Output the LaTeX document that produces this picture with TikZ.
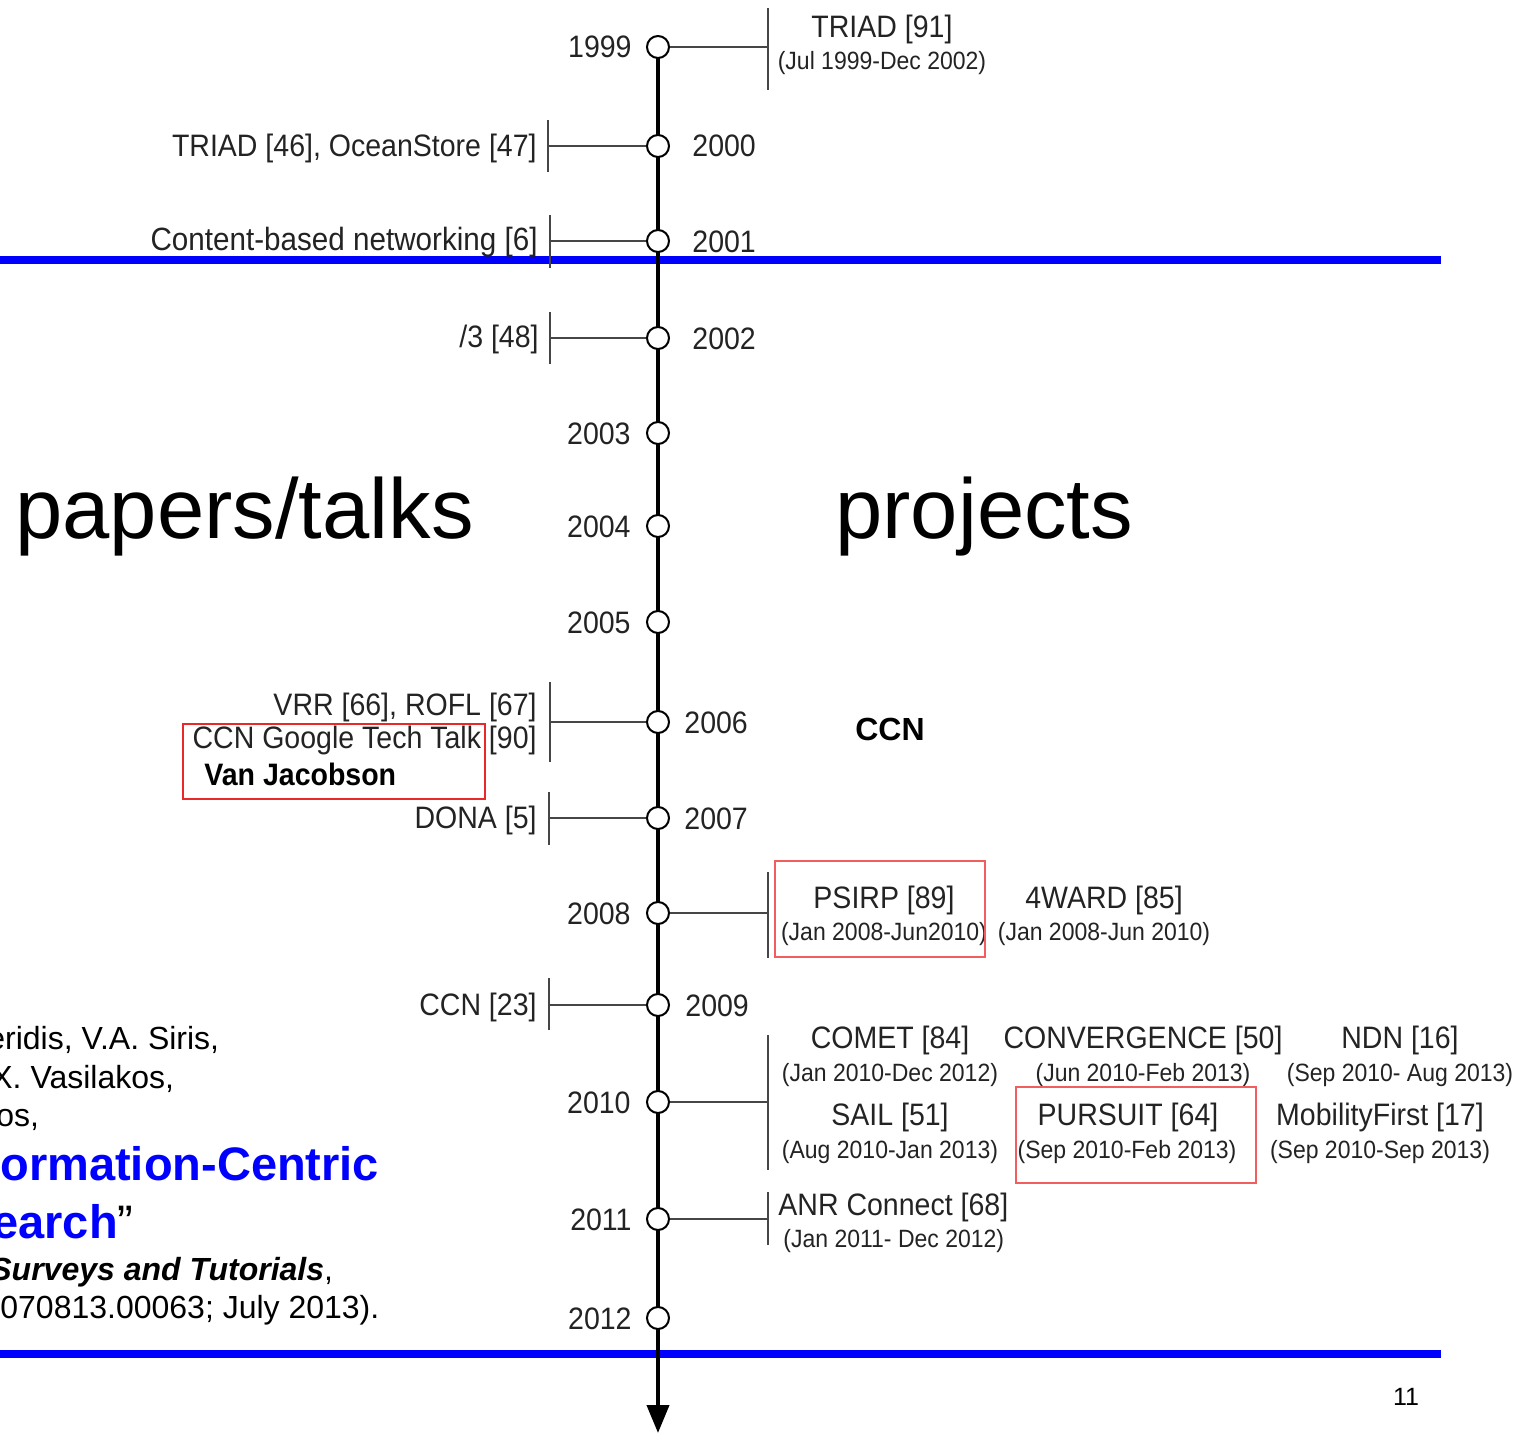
\documentclass[tikz,border=0pt]{standalone}
\usepackage{fontspec}
\setmainfont{Liberation Sans}
\newfontfamily\tlfont[FakeStretch=0.92]{Liberation Sans}
\usetikzlibrary{arrows.meta}
\definecolor{slideblue}{RGB}{0,0,255}
\definecolor{tltext}{RGB}{35,35,35}
\definecolor{tlbranch}{RGB}{70,70,70}
\definecolor{boxred}{RGB}{235,40,40}
\begin{document}
\begin{tikzpicture}[x=0.5pt,y=-0.5pt,
  yearmark/.style={circle,draw=black,line width=1pt,fill=white,minimum size=11pt,inner sep=0pt},
  axisline/.style={line width=2pt,-{Triangle[width=11pt,length=14pt]}},
  branch/.style={draw=tlbranch,line width=1pt},
  yearlbl/.style={font=\tlfont\fontsize{15.5}{18}\selectfont,text=tltext,inner sep=0pt},
  lbl/.style={font=\tlfont\fontsize{15.5}{18}\selectfont,text=tltext,inner sep=0pt},
  datelbl/.style={font=\tlfont\fontsize{12.5}{15}\selectfont,text=tltext,inner sep=0pt},
  bigword/.style={font=\fontsize{42.5}{50}\selectfont,inner sep=0pt},
  reftext/.style={font=\fontsize{16}{19}\selectfont,inner sep=0pt,anchor=base west},
  hilite/.style={draw=boxred,line width=1pt,inner sep=0pt},
  softbox/.style={draw=boxred!75,line width=0.6pt,inner sep=0pt}]
\useasboundingbox (0,0) rectangle (1533,1434);

% section rules
\coordinate (r1a) at (0,260);  \coordinate (r1b) at (1441,260);
\coordinate (r2a) at (0,1354); \coordinate (r2b) at (1441,1354);
\draw[slideblue,line width=4pt] (r1a) -- (r1b);
\draw[slideblue,line width=4pt] (r2a) -- (r2b);

% time axis
\coordinate (axtop) at (658,47);
\coordinate (axend) at (658,1433);
\draw[axisline] (axtop) -- (axend);

% branch end ticks
\foreach \n/\x/\ya/\yb in {b2000/548/120/172, b2001/550/215/268, b2002/550/312/364,
    b2006/550/682/762, b2007/549/792/845, b2009/549/978/1030,
    b1999/768/8/90, b2008/768/872/958, b2010/768/1035/1170, b2011/768/1192/1245}{
  \coordinate (\n a) at (\x,\ya);
  \coordinate (\n b) at (\x,\yb);
  \draw[branch] (\n a) -- (\n b);
}
\coordinate (c1999) at (768,47);
\coordinate (c2000) at (548,146);
\coordinate (c2001) at (550,241);
\coordinate (c2002) at (550,338);
\coordinate (c2006) at (550,722);
\coordinate (c2007) at (549,818);
\coordinate (c2008) at (768,913);
\coordinate (c2009) at (549,1005);
\coordinate (c2010) at (768,1102);
\coordinate (c2011) at (768,1219);

% year marks
\foreach \yr/\yy in {1999/47,2000/146,2001/241,2002/338,2003/433,2004/526,2005/622,
    2006/722,2007/818,2008/913,2009/1005,2010/1102,2011/1219,2012/1318}{
  \node[yearmark] (y\yr) at (658,\yy) {};
}
\foreach \yr in {1999,2008,2010,2011}{\draw[branch] (y\yr) -- (c\yr);}
\foreach \yr in {2000,2001,2002,2006,2007,2009}{\draw[branch] (y\yr) -- (c\yr);}

% year labels
\node[yearlbl,anchor=base east] (l1999) at (632,58) {1999};
\node[yearlbl,anchor=base west] (l2000) at (692,157) {2000};
\node[yearlbl,anchor=base west] (l2001) at (692,252) {2001};
\node[yearlbl,anchor=base west] (l2002) at (692,349) {2002};
\node[yearlbl,anchor=base east] (l2003) at (631,444) {2003};
\node[yearlbl,anchor=base east] (l2004) at (631,537) {2004};
\node[yearlbl,anchor=base east] (l2005) at (631,633) {2005};
\node[yearlbl,anchor=base west] (l2006) at (684,733) {2006};
\node[yearlbl,anchor=base west] (l2007) at (684,829) {2007};
\node[yearlbl,anchor=base east] (l2008) at (631,924) {2008};
\node[yearlbl,anchor=base west] (l2009) at (685,1016) {2009};
\node[yearlbl,anchor=base east] (l2010) at (631,1113) {2010};
\node[yearlbl,anchor=base east] (l2011) at (632,1230) {2011};
\node[yearlbl,anchor=base east] (l2012) at (632,1329) {2012};

% papers / talks (left)
\node[lbl,anchor=base east] (p2000) at (537,157) {TRIAD [46], OceanStore [47]};
\node[lbl,font=\tlfont\fontsize{16.1}{18}\selectfont,anchor=base east] (p2001) at (538,250) {Content-based networking [6]};
\node[lbl,anchor=base east] (p2002) at (539,347) {/3 [48]};
\node[lbl,anchor=base east] (p2006a) at (537,715) {VRR [66], ROFL [67]};
\node[lbl,anchor=base east] (p2006b) at (537,748) {CCN Google Tech Talk [90]};
\node[font=\tlfont\bfseries\fontsize{15.5}{18}\selectfont,inner sep=0pt,anchor=base west] (vj) at (204,785) {Van Jacobson};
\node[hilite,minimum width=151pt,minimum height=37.5pt] (vjbox) at (334,761.5) {};
\node[lbl,anchor=base east] (p2007) at (537,828) {DONA [5]};
\node[lbl,anchor=base east] (p2009) at (537,1015) {CCN [23]};

% projects (right)
\node[lbl,anchor=base] (triad) at (882,38) {TRIAD [91]};
\node[datelbl,anchor=base] (triadd) at (882,70) {(Jul 1999-Dec 2002)};
\node[font=\bfseries\fontsize{16}{19}\selectfont,inner sep=0pt,anchor=base] (ccn) at (890,740) {CCN};

\node[lbl,anchor=base] (psirp) at (884,908) {PSIRP [89]};
\node[datelbl,anchor=base] (psirpd) at (884,940) {(Jan 2008-Jun2010)};
\node[softbox,minimum width=105pt,minimum height=48pt] (psirpbox) at (880,909) {};
\node[lbl,anchor=base] (fward) at (1104,908) {4WARD [85]};
\node[datelbl,anchor=base] (fwardd) at (1104,940) {(Jan 2008-Jun 2010)};

\node[lbl,anchor=base] (comet) at (890,1048) {COMET [84]};
\node[datelbl,anchor=base] (cometd) at (890,1081) {(Jan 2010-Dec 2012)};
\node[lbl,anchor=base] (conv) at (1143,1048) {CONVERGENCE [50]};
\node[datelbl,anchor=base] (convd) at (1143,1081) {(Jun 2010-Feb 2013)};
\node[lbl,anchor=base] (ndn) at (1400,1048) {NDN [16]};
\node[datelbl,anchor=base] (ndnd) at (1400,1081) {(Sep 2010- Aug 2013)};
\node[lbl,anchor=base] (sail) at (890,1125) {SAIL [51]};
\node[datelbl,anchor=base] (saild) at (890,1158) {(Aug 2010-Jan 2013)};
\node[lbl,anchor=base] (pursuit) at (1128,1125) {PURSUIT [64]};
\node[datelbl,anchor=base] (pursuitd) at (1127,1158) {(Sep 2010-Feb 2013)};
\node[softbox,minimum width=120pt,minimum height=48pt] (pursuitbox) at (1136,1135) {};
\node[lbl,anchor=base] (mobf) at (1380,1125) {MobilityFirst [17]};
\node[datelbl,anchor=base] (mobfd) at (1380,1158) {(Sep 2010-Sep 2013)};

\node[lbl,anchor=base west] (anr) at (778,1215) {ANR Connect [68]};
\node[datelbl,anchor=base west] (anrd) at (783,1247) {(Jan 2011- Dec 2012)};

% column headings
\node[bigword,anchor=base west] (papers) at (15,538) {papers/talks};
\node[bigword,anchor=base west] (projects) at (835,538) {projects};

% reference
\node[reftext] (ref1) at (-13,1049) {eridis, V.A. Siris,};
\node[reftext] (ref2) at (-9,1088) {X. Vasilakos,};
\node[reftext] (ref3) at (-4,1126) {os,};
\node[reftext,font=\bfseries\fontsize{23.5}{28}\selectfont,text=slideblue] (ref4) at (0,1180) {ormation-Centric};
\node[reftext,font=\fontsize{23.5}{28}\selectfont] (ref5) at (-8,1238) {\textcolor{slideblue}{\bfseries earch}”};
\node[reftext] (ref6) at (-10,1280) {\textbf{\textit{Surveys and Tutorials}},};
\node[reftext] (ref7) at (0,1318) {070813.00063; July 2013).};

% page number
\node[font=\fontsize{12.5}{15}\selectfont,inner sep=0pt,anchor=base] (pgno) at (1406,1405) {11};
\end{tikzpicture}
\end{document}
